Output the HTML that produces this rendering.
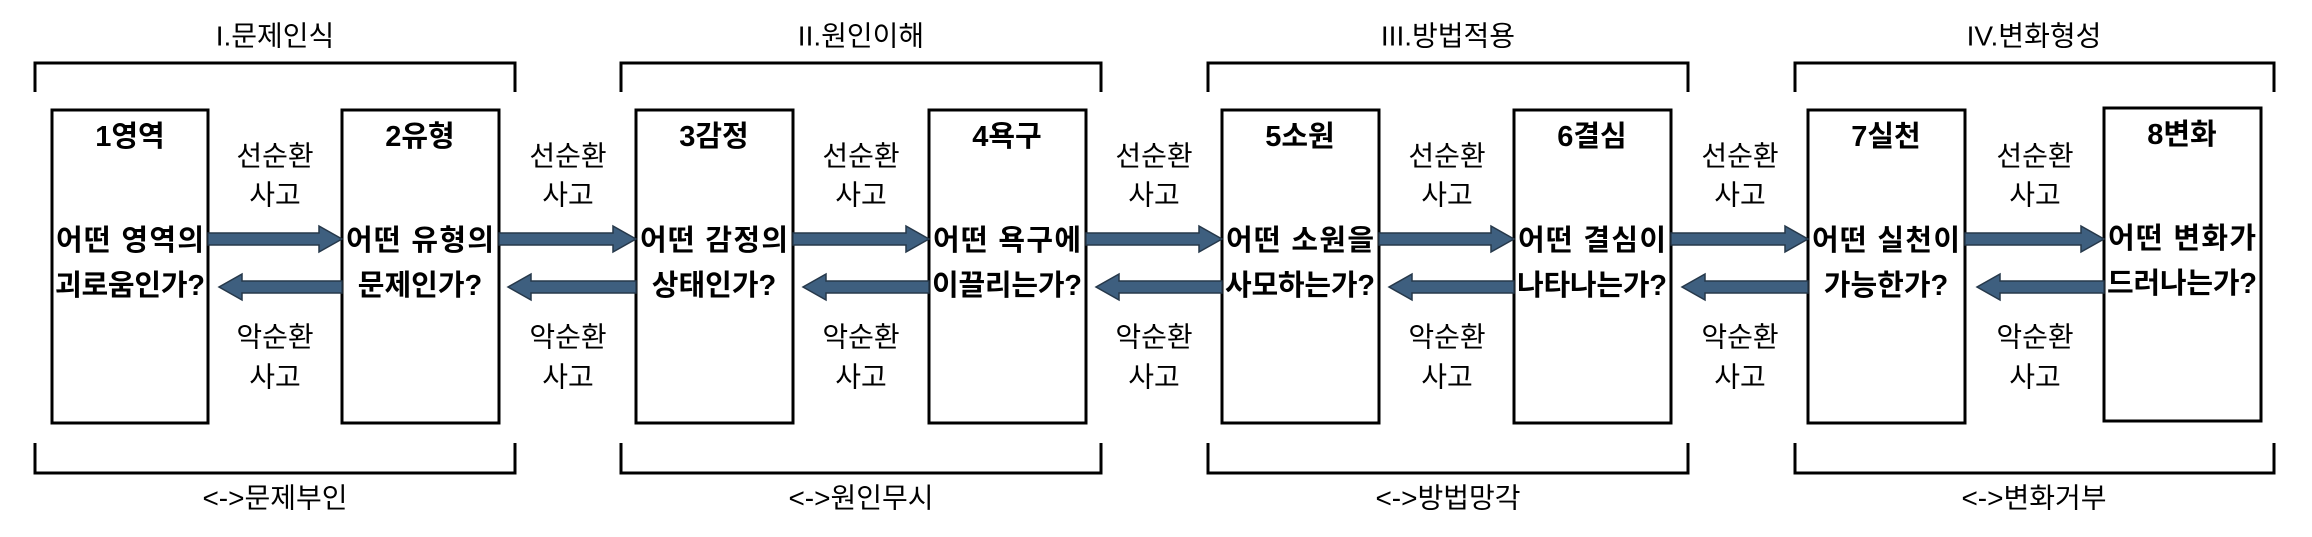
<!DOCTYPE html>
<html><head><meta charset="utf-8"><style>
html,body{margin:0;padding:0;background:#fff}
svg{display:block}
text{font-family:"Liberation Sans","Noto Sans CJK KR",sans-serif;fill:#000}
.b{font-weight:bold;font-size:29px}
.n{font-size:28px}
</style></head><body>
<svg width="2312" height="537" viewBox="0 0 2312 537" xmlns="http://www.w3.org/2000/svg">
<g fill="none" stroke="#000" stroke-width="3">
<path d="M35 92V63H515V92"/><path d="M621 92V63H1101V92"/><path d="M1208 92V63H1688V92"/><path d="M1795 92V63H2274V92"/>
<path d="M35 443V473H515V443"/><path d="M621 443V473H1101V443"/><path d="M1208 443V473H1688V443"/><path d="M1795 443V473H2274V443"/>
<rect x="52" y="110" width="156" height="313"/><rect x="342" y="110" width="157" height="313"/>
<rect x="636" y="110" width="157" height="313"/><rect x="929" y="110" width="157" height="313"/>
<rect x="1222" y="110" width="157" height="313"/><rect x="1514" y="110" width="157" height="313"/>
<rect x="1808" y="110" width="157" height="313"/><rect x="2104" y="108" width="157" height="313"/>
</g>
<g fill="#3e5f7f" stroke="#26384a" stroke-width="1.5">
<path d="M208 233H319V226L342 239L319 252V245H208Z"/>
<path d="M499 233H613V226L636 239L613 252V245H499Z"/>
<path d="M793 233H906V226L929 239L906 252V245H793Z"/>
<path d="M1086 233H1199V226L1222 239L1199 252V245H1086Z"/>
<path d="M1379 233H1491V226L1514 239L1491 252V245H1379Z"/>
<path d="M1671 233H1785V226L1808 239L1785 252V245H1671Z"/>
<path d="M1965 233H2081V226L2104 239L2081 252V245H1965Z"/>
<path d="M342 281H242V274L219 287L242 300V293H342Z"/>
<path d="M636 281H531V274L508 287L531 300V293H636Z"/>
<path d="M929 281H826V274L803 287L826 300V293H929Z"/>
<path d="M1222 281H1119V274L1096 287L1119 300V293H1222Z"/>
<path d="M1514 281H1412V274L1389 287L1412 300V293H1514Z"/>
<path d="M1808 281H1705V274L1682 287L1705 300V293H1808Z"/>
<path d="M2104 281H2000V274L1977 287L2000 300V293H2104Z"/>
</g>
<g text-anchor="middle" dominant-baseline="central">
<g class="n">
<text x="275" y="36">I.문제인식</text><text x="861" y="36">II.원인이해</text><text x="1448" y="36">III.방법적용</text><text x="2034" y="36">IV.변화형성</text>
<text x="275" y="498">&lt;-&gt;문제부인</text><text x="861" y="498">&lt;-&gt;원인무시</text><text x="1448" y="498">&lt;-&gt;방법망각</text><text x="2034" y="498">&lt;-&gt;변화거부</text>
</g>
<g class="n">
<text x="275" y="156">선순환</text><text x="275" y="195">사고</text><text x="275" y="337">악순환</text><text x="275" y="377">사고</text>
<text x="568" y="156">선순환</text><text x="568" y="195">사고</text><text x="568" y="337">악순환</text><text x="568" y="377">사고</text>
<text x="861" y="156">선순환</text><text x="861" y="195">사고</text><text x="861" y="337">악순환</text><text x="861" y="377">사고</text>
<text x="1154" y="156">선순환</text><text x="1154" y="195">사고</text><text x="1154" y="337">악순환</text><text x="1154" y="377">사고</text>
<text x="1447" y="156">선순환</text><text x="1447" y="195">사고</text><text x="1447" y="337">악순환</text><text x="1447" y="377">사고</text>
<text x="1740" y="156">선순환</text><text x="1740" y="195">사고</text><text x="1740" y="337">악순환</text><text x="1740" y="377">사고</text>
<text x="2035" y="156">선순환</text><text x="2035" y="195">사고</text><text x="2035" y="337">악순환</text><text x="2035" y="377">사고</text>
</g>
<g class="b">
<text x="130" y="137">1영역</text><text x="130" y="241" textLength="148">어떤 영역의</text><text x="130" y="286" textLength="150">괴로움인가?</text>
<text x="420" y="137">2유형</text><text x="420" y="241" textLength="148">어떤 유형의</text><text x="420" y="286">문제인가?</text>
<text x="714" y="137">3감정</text><text x="714" y="241" textLength="148">어떤 감정의</text><text x="714" y="286">상태인가?</text>
<text x="1007" y="137">4욕구</text><text x="1007" y="241" textLength="148">어떤 욕구에</text><text x="1007" y="286" textLength="150">이끌리는가?</text>
<text x="1300" y="137">5소원</text><text x="1300" y="241" textLength="148">어떤 소원을</text><text x="1300" y="286" textLength="150">사모하는가?</text>
<text x="1592" y="137">6결심</text><text x="1592" y="241" textLength="148">어떤 결심이</text><text x="1592" y="286" textLength="150">나타나는가?</text>
<text x="1886" y="137">7실천</text><text x="1886" y="241" textLength="148">어떤 실천이</text><text x="1886" y="286">가능한가?</text>
<text x="2182" y="135">8변화</text><text x="2182" y="239" textLength="148">어떤 변화가</text><text x="2182" y="284" textLength="150">드러나는가?</text>
</g>
</g>
</svg>
</body></html>
